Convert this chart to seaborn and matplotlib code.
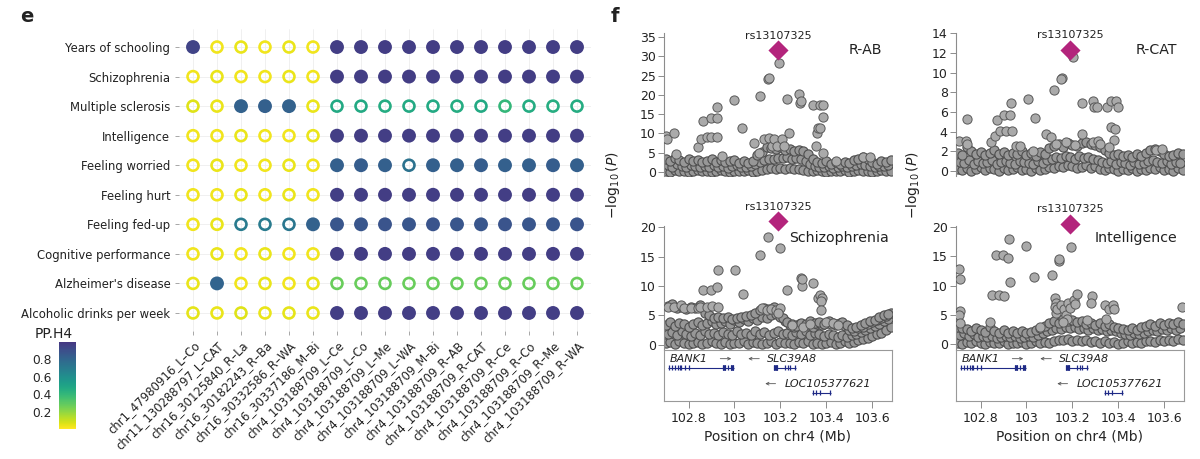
import matplotlib
matplotlib.use("Agg")
import matplotlib.pyplot as plt
from matplotlib.colors import ListedColormap
import numpy as np
import pandas as pd
import seaborn as sns

# ---------------- panel e: colocalisation dot plot ----------------
traits = ["Years of schooling", "Schizophrenia", "Multiple sclerosis", "Intelligence",
          "Feeling worried", "Feeling hurt", "Feeling fed-up", "Cognitive performance",
          "Alzheimer's disease", "Alcoholic drinks per week"]
loci = ["chr1_47980916_L–Co", "chr11_130288797_L–CAT", "chr16_30125840_R–La",
        "chr16_30182243_R–Ba", "chr16_30332586_R–WA", "chr16_30337186_M–Bi",
        "chr4_103188709_L–Ce", "chr4_103188709_L–Co", "chr4_103188709_L–Me",
        "chr4_103188709_L–WA", "chr4_103188709_M–Bi", "chr4_103188709_R–AB",
        "chr4_103188709_R–CAT", "chr4_103188709_R–Ce", "chr4_103188709_R–Co",
        "chr4_103188709_R–Me", "chr4_103188709_R–WA"]

pp_schooling = [0.95, 0.03, 0.04, 0.03, 0.04, 0.03, 0.97, 0.97, 0.98, 0.97, 0.98, 0.97, 0.97, 0.98, 0.97, 0.97, 0.98]
pp_schizophrenia = [0.03, 0.04, 0.03, 0.03, 0.04, 0.03, 0.98, 0.97, 0.98, 0.98, 0.97, 0.98, 0.97, 0.98, 0.98, 0.97, 0.98]
pp_ms = [0.06, 0.04, 0.82, 0.83, 0.82, 0.04, 0.47, 0.47, 0.46, 0.47, 0.47, 0.46, 0.47, 0.40, 0.46, 0.45, 0.46]
pp_intelligence = [0.03, 0.03, 0.04, 0.03, 0.03, 0.04, 0.97, 0.98, 0.97, 0.97, 0.98, 0.97, 0.98, 0.97, 0.97, 0.98, 0.97]
pp_worried = [0.03, 0.04, 0.03, 0.03, 0.04, 0.03, 0.83, 0.84, 0.83, 0.74, 0.83, 0.83, 0.84, 0.83, 0.83, 0.84, 0.83]
pp_hurt = [0.03, 0.03, 0.04, 0.03, 0.04, 0.03, 0.97, 0.97, 0.98, 0.97, 0.97, 0.98, 0.97, 0.97, 0.98, 0.97, 0.97]
pp_fedup = [0.03, 0.04, 0.70, 0.70, 0.72, 0.82, 0.87, 0.87, 0.88, 0.87, 0.88, 0.87, 0.87, 0.88, 0.87, 0.87, 0.88]
pp_cognitive = [0.03, 0.04, 0.03, 0.04, 0.03, 0.03, 0.97, 0.98, 0.97, 0.98, 0.97, 0.97, 0.98, 0.97, 0.97, 0.98, 0.97]
pp_alzheimer = [0.04, 0.81, 0.03, 0.04, 0.03, 0.04, 0.27, 0.27, 0.28, 0.27, 0.27, 0.28, 0.27, 0.27, 0.28, 0.27, 0.27]
pp_alcohol = [0.05, 0.04, 0.06, 0.04, 0.05, 0.04, 0.97, 0.97, 0.98, 0.97, 0.97, 0.98, 0.97, 0.98, 0.97, 0.97, 0.98]
pp_rows = [pp_schooling, pp_schizophrenia, pp_ms, pp_intelligence, pp_worried,
           pp_hurt, pp_fedup, pp_cognitive, pp_alzheimer, pp_alcohol]

# ---------------- panel f: regional association plots ----------------
lead_snp = "rs13107325"
lead_pos = 103.188709

band_x_a = [102.70, 102.72, 102.74, 102.76, 102.78, 102.80, 102.82, 102.84, 102.86, 102.88,
            102.90, 102.92, 102.94, 102.96, 102.98, 103.00, 103.02, 103.04, 103.06, 103.08,
            103.10, 103.12, 103.14, 103.16, 103.18, 103.20, 103.22, 103.24, 103.26, 103.28,
            103.30, 103.32, 103.34, 103.36, 103.38, 103.40, 103.42, 103.44, 103.46, 103.48,
            103.50, 103.52, 103.54, 103.56, 103.58, 103.60, 103.62, 103.64, 103.66, 103.68]
band_x_b = [102.71, 102.73, 102.75, 102.77, 102.79, 102.81, 102.83, 102.85, 102.87, 102.89,
            102.91, 102.93, 102.95, 102.97, 102.99, 103.01, 103.03, 103.05, 103.07, 103.09,
            103.11, 103.13, 103.15, 103.17, 103.19, 103.21, 103.23, 103.25, 103.27, 103.29,
            103.31, 103.33, 103.35, 103.37, 103.39, 103.41, 103.43, 103.45, 103.47, 103.49,
            103.51, 103.53, 103.55, 103.57, 103.59, 103.61, 103.63, 103.65, 103.67]

# R-AB
rab_lo = [0.3, 0.1, 0.5, 0.2, 0.4, 0.1, 0.3, 0.6, 0.2, 0.4,
          0.1, 0.3, 0.5, 0.2, 0.1, 0.4, 0.3, 0.2, 0.5, 0.1,
          0.4, 0.6, 0.8, 1.0, 0.9, 1.1, 0.8, 1.0, 0.7, 0.9,
          0.6, 0.4, 0.2, 0.5, 0.3, 0.1, 0.4, 0.2, 0.3, 0.5,
          0.1, 0.3, 0.6, 0.2, 0.4, 0.1, 0.3, 0.5, 0.2, 0.4]
rab_mid = [1.8, 1.4, 2.0, 1.6, 1.3, 1.9, 1.5, 1.2, 1.7, 1.4,
           1.9, 1.3, 1.6, 1.1, 1.5, 1.8, 1.2, 1.4, 1.6, 2.0,
           2.6, 3.2, 3.5, 3.4, 3.7, 3.6, 3.8, 3.5, 3.6, 3.3,
           2.8, 2.2, 1.7, 1.4, 1.2, 1.5, 1.0, 1.3, 1.6, 1.2,
           1.5, 1.8, 2.1, 1.9, 1.6, 1.4, 1.7, 1.5, 1.8]
rab_hi = [3.3, 2.9, 3.6, 3.1, 2.7, 3.4, 2.8, 3.2, 2.6, 3.0,
          3.3, 2.7, 3.1, 2.5, 2.9, 3.2, 2.4, 2.8, 2.3, 3.0,
          4.5, 5.3, 6.5, 6.2, 5.9, 6.4, 5.6, 5.9, 5.5, 5.8,
          5.4, 4.6, 3.4, 2.6, 2.3, 2.9, 2.1, 2.5, 2.0, 2.7,
          2.4, 3.1, 3.5, 3.8, 3.3, 2.6, 2.2, 2.9, 2.5, 3.1]
rab_peaks = [(102.702, 9.3), (102.705, 8.6), (102.735, 10.0), (102.745, 4.8), (102.842, 6.4),
             (102.853, 8.6), (102.865, 13.2), (102.879, 9.1), (102.897, 9.1), (102.925, 9.1),
             (102.897, 14.0), (102.923, 14.0), (102.925, 16.9), (102.947, 4.1), (103.000, 18.6),
             (103.034, 11.4), (103.084, 7.6), (103.105, 5.0), (103.110, 19.8), (103.127, 8.6),
             (103.146, 24.0), (103.149, 24.3), (103.149, 8.8), (103.165, 6.8), (103.171, 8.6),
             (103.185, 6.8), (103.195, 28.3), (103.207, 8.5), (103.214, 6.8), (103.229, 19.0),
             (103.236, 10.2), (103.282, 20.1), (103.286, 17.9), (103.290, 18.3), (103.344, 17.5),
             (103.358, 10.2), (103.365, 11.5), (103.373, 17.5), (103.373, 11.5), (103.384, 17.5),
             (103.384, 14.3), (103.355, 6.7), (103.384, 5.0), (103.440, 3.0), (103.560, 4.0),
             (103.590, 4.0)]

# R-CAT
rcat_lo = [0.2, 0.1, 0.3, 0.0, 0.2, 0.4, 0.1, 0.3, 0.2, 0.0,
           0.3, 0.1, 0.2, 0.4, 0.1, 0.2, 0.0, 0.3, 0.1, 0.2,
           0.4, 0.3, 0.5, 0.4, 0.6, 0.5, 0.3, 0.4, 0.6, 0.3,
           0.5, 0.2, 0.1, 0.3, 0.2, 0.0, 0.2, 0.1, 0.3, 0.0,
           0.2, 0.1, 0.3, 0.2, 0.4, 0.1, 0.2, 0.0, 0.3, 0.1]
rcat_mid = [0.9, 0.8, 1.1, 0.7, 1.0, 0.8, 0.9, 1.1, 0.7, 0.9,
            1.0, 0.8, 0.7, 1.0, 0.9, 0.8, 0.7, 1.0, 0.8, 1.1,
            1.2, 1.4, 1.3, 1.5, 1.4, 1.2, 1.5, 1.3, 1.4, 1.2,
            1.1, 0.9, 0.8, 1.0, 0.7, 0.9, 0.8, 0.6, 0.9, 0.7,
            0.8, 1.0, 1.1, 0.9, 0.8, 1.0, 0.7, 0.9, 0.8]
rcat_hi = [1.8, 1.6, 2.4, 2.0, 1.7, 1.9, 1.6, 1.8, 2.1, 1.7,
           1.9, 1.6, 1.8, 1.7, 2.0, 1.6, 1.8, 1.5, 1.9, 1.7,
           2.3, 2.6, 2.8, 2.5, 2.9, 2.7, 2.6, 2.9, 3.0, 2.8,
           2.7, 2.4, 2.1, 1.8, 1.6, 1.7, 1.5, 1.6, 1.4, 1.7,
           1.5, 1.8, 2.1, 2.2, 2.0, 1.7, 1.5, 1.6, 1.8, 1.7]
rcat_peaks = [(102.706, 3.1), (102.738, 3.1), (102.742, 2.8), (102.743, 5.3), (102.847, 3.0),
              (102.862, 3.6), (102.872, 5.2), (102.884, 4.1), (102.909, 4.1), (102.938, 4.1),
              (102.901, 5.7), (102.927, 5.7), (102.934, 6.9), (102.953, 2.6), (102.970, 2.6),
              (103.005, 7.3), (103.039, 5.4), (103.030, 2.0), (103.085, 3.8), (103.106, 3.5),
              (103.118, 8.2), (103.155, 9.5), (103.152, 9.4), (103.203, 11.6), (103.240, 6.9),
              (103.240, 3.8), (103.290, 7.1), (103.295, 6.5), (103.305, 6.5), (103.290, 3.0),
              (103.310, 3.1), (103.320, 2.8), (103.349, 6.5), (103.370, 7.1), (103.390, 7.1),
              (103.400, 6.5), (103.370, 4.5), (103.385, 4.3), (103.380, 3.2), (103.360, 2.5),
              (103.130, 2.8), (103.170, 3.0), (103.210, 2.7), (103.565, 2.1), (103.590, 2.2)]

# Schizophrenia
scz_lo = [0.3, 0.5, 0.2, 0.6, 0.4, 0.1, 0.3, 0.5, 0.2, 0.4,
          0.6, 0.3, 0.1, 0.5, 0.2, 0.4, 0.3, 0.6, 0.2, 0.5,
          0.3, 0.1, 0.4, 0.6, 0.2, 0.5, 0.3, 0.4, 0.1, 0.5,
          0.3, 0.6, 0.2, 0.4, 0.1, 0.3, 0.5, 0.2, 0.4, 0.6,
          0.3, 0.5, 0.8, 1.0, 1.2, 1.5, 1.8, 2.1, 2.5, 3.0]
scz_mid = [1.8, 2.2, 1.6, 2.4, 1.9, 1.5, 2.1, 1.7, 2.3, 1.8,
           2.0, 1.6, 2.2, 1.9, 1.7, 2.4, 1.8, 2.1, 1.6, 2.3,
           1.9, 2.2, 1.7, 2.0, 2.4, 1.8, 2.1, 1.6, 2.2, 1.9,
           2.3, 1.7, 2.0, 1.8, 1.5, 1.9, 1.6, 1.4, 1.7, 1.3,
           1.6, 1.9, 2.2, 2.5, 2.9, 3.2, 3.6, 4.0, 4.4]
scz_hi = [3.4, 3.9, 3.2, 3.8, 3.5, 3.1, 3.6, 3.9, 3.3, 3.7,
          4.0, 3.5, 3.8, 4.1, 3.6, 4.2, 3.9, 4.4, 4.0, 4.5,
          4.3, 4.7, 4.6, 5.0, 5.2, 4.8, 4.1, 3.3, 3.0, 3.5,
          3.2, 3.4, 3.1, 3.6, 3.3, 3.8, 3.5, 3.4, 3.7, 3.2,
          2.6, 2.4, 2.8, 3.1, 3.5, 3.9, 4.2, 4.6, 4.9, 5.4]
scz_top = [6.6, 6.9, 6.3, 6.4, 6.1, 6.5, 6.3, 6.7, 5.4, 5.0,
           4.6, 4.8, 4.5, 4.7, 4.4, 4.6, 4.8, 4.9, 5.1, 5.5,
           6.0, 6.3, 6.1, 6.4, 5.8, 4.6, 3.9, 3.6, 3.2, 3.8,
           3.5, 4.0, 3.7, 3.9, 3.6, 4.1, 3.8, 3.5, 3.9, 3.4,
           2.9, 3.0, 3.3, 3.7, 4.0, 4.3, 4.7, 5.0, 5.2]
scz_peaks = [(102.709, 6.5), (102.735, 6.5), (102.767, 6.8), (102.780, 6.3), (102.810, 6.3),
             (102.840, 6.3), (102.850, 6.5), (102.880, 6.5), (102.900, 6.6), (102.930, 6.4),
             (102.863, 9.4), (102.897, 9.4), (102.923, 9.8), (102.928, 12.8), (103.002, 12.8),
             (103.036, 8.7), (103.113, 15.2), (103.146, 18.3), (103.197, 16.4), (103.229, 9.4),
             (103.288, 11.4), (103.293, 10.0), (103.296, 11.2), (103.344, 10.5), (103.365, 8.0),
             (103.373, 8.5), (103.380, 8.0), (103.378, 7.5), (103.376, 6.0), (103.120, 6.3),
             (103.140, 6.0), (103.160, 6.1), (103.180, 6.0), (103.200, 6.3), (103.190, 5.5),
             (103.250, 3.3), (103.300, 3.0), (103.330, 3.6), (103.400, 3.9), (103.430, 3.8),
             (103.450, 3.4)]

# Intelligence
int_lo = [0.3, 0.1, 0.4, 0.2, 0.5, 0.3, 0.1, 0.4, 0.2, 0.3,
          0.5, 0.1, 0.3, 0.2, 0.4, 0.1, 0.3, 0.5, 0.2, 0.4,
          0.3, 0.6, 0.8, 0.7, 0.9, 0.6, 0.8, 0.5, 0.7, 0.4,
          0.6, 0.3, 0.5, 0.2, 0.4, 0.1, 0.3, 0.5, 0.2, 0.4,
          0.3, 0.5, 0.6, 0.4, 0.7, 0.5, 0.8, 0.6, 0.9, 0.7]
int_mid = [1.6, 1.9, 1.4, 1.7, 1.3, 1.5, 1.2, 1.4, 1.1, 1.3,
           1.5, 1.2, 1.4, 1.1, 1.3, 1.5, 1.2, 1.6, 1.9, 2.2,
           2.5, 2.8, 2.6, 3.0, 2.7, 2.9, 2.6, 2.8, 2.5, 2.7,
           2.4, 2.6, 2.3, 2.5, 2.2, 2.0, 1.8, 1.6, 1.9, 1.7,
           2.0, 2.2, 2.4, 2.3, 2.6, 2.4, 2.7, 2.5, 2.8]
int_hi = [3.0, 2.7, 2.6, 2.2, 2.8, 2.4, 2.1, 2.9, 2.3, 2.0,
          2.4, 1.9, 2.2, 2.0, 2.3, 1.9, 2.1, 2.5, 2.8, 3.2,
          3.6, 4.0, 3.7, 4.3, 3.9, 4.1, 3.8, 4.0, 3.5, 3.7,
          3.3, 3.6, 3.2, 3.4, 3.0, 2.8, 2.6, 2.4, 2.7, 2.5,
          2.9, 3.2, 3.4, 3.1, 3.6, 3.3, 3.7, 3.4, 3.8, 3.5]
int_peaks = [(102.706, 12.9), (102.712, 11.1), (102.710, 5.7), (102.708, 5.0), (102.710, 3.6),
             (102.839, 3.8), (102.851, 8.4), (102.880, 8.4), (102.900, 8.3), (102.866, 15.2),
             (102.897, 15.2), (102.920, 14.7), (102.924, 17.9), (102.927, 10.7), (103.000, 16.7),
             (103.032, 11.5), (103.060, 2.9), (103.110, 11.9), (103.141, 14.2), (103.143, 14.6),
             (103.195, 16.6), (103.125, 7.9), (103.128, 7.1), (103.123, 6.4), (103.128, 5.3),
             (103.135, 6.0), (103.150, 6.7), (103.165, 6.0), (103.170, 5.0), (103.175, 4.3),
             (103.180, 7.0), (103.205, 7.5), (103.220, 8.6), (103.190, 6.2), (103.210, 6.8),
             (103.160, 3.8), (103.286, 8.3), (103.280, 7.0), (103.262, 4.1), (103.344, 6.7),
             (103.360, 6.1), (103.375, 6.7), (103.380, 6.1), (103.345, 4.4), (103.678, 6.4)]

lead_logp = [31.5, 12.3, 21.0, 20.6]
panel_names = ["R-AB", "R-CAT", "Schizophrenia", "Intelligence"]

# genes in the window
gene_names = ["BANK1", "SLC39A8", "LOC105377621"]
gene_start = [102.711, 103.172, 103.338]
gene_end = [102.996, 103.266, 103.420]
gene_row = [0.65, 0.65, 0.16]
gene_label_x = [102.716, 103.142, 103.218]
arrow_from = [102.926, 103.120, 103.191]
arrow_to = [102.998, 103.048, 103.122]
gene_exons = [
    [102.713, 102.728, 102.742, 102.756, 102.762, 102.768, 102.784, 102.800,
     102.952, 102.958, 102.972, 102.986, 102.994],
    [103.174, 103.180, 103.186, 103.222, 103.232, 103.240, 103.262],
    [103.342, 103.356, 103.372, 103.418],
]
gene_blocks = [[(102.950, 102.962), (102.985, 102.996)], [(103.172, 103.188)], []]

# ---------------- styling ----------------
sns.set_theme(style="white")
plt.rcParams["font.family"] = ["DejaVu Sans"]
plt.rcParams["text.color"] = "#222222"

W, H = 1200, 459


def frac(left, top, right, bottom):
    return [left / W, 1 - bottom / H, (right - left) / W, (bottom - top) / H]


pp_cmap = ListedColormap(plt.get_cmap("viridis")(np.linspace(0.16, 1.0, 256))[::-1])

fig = plt.figure(figsize=(12, 4.59), dpi=100)

# ---- e ----
ax_e = fig.add_axes(frac(178.6, 29.3, 591.4, 330.7))
dot_df = pd.DataFrame({
    "trait": np.repeat(traits, len(loci)),
    "locus": np.tile(loci, len(traits)),
    "pp": np.concatenate(pp_rows),
})
dot_df["trait"] = pd.Categorical(dot_df["trait"], categories=traits)
dot_df["locus"] = pd.Categorical(dot_df["locus"], categories=loci)
filled = dot_df[dot_df["pp"] >= 0.8]
hollow = dot_df[dot_df["pp"] < 0.8]

sns.scatterplot(data=filled, x="locus", y="trait", hue="pp", palette=pp_cmap,
                hue_norm=(0, 1), s=100, linewidth=0, legend=False, ax=ax_e, zorder=3)
sns.scatterplot(data=hollow, x="locus", y="trait", hue="pp", palette=pp_cmap,
                hue_norm=(0, 1), s=62, legend=False, ax=ax_e, zorder=3)
ring = ax_e.collections[-1]
ring.set_edgecolors(ring.get_facecolors())
ring.set_facecolors("none")
ring.set_linewidths(1.9)

ax_e.set_xlim(-0.6, len(loci) - 0.4)
ax_e.set_ylim(len(traits) - 0.4, -0.6)
ax_e.grid(True, color="#eeeeee", lw=0.6)
ax_e.set_axisbelow(True)
for sp in ax_e.spines.values():
    sp.set_visible(False)
ax_e.set_xlabel("")
ax_e.set_ylabel("")
ax_e.tick_params(axis="both", length=3, width=0.6, color="#999999", pad=3,
                 labelcolor="#222222", labelsize=8.4, bottom=True, left=True)
for lab in ax_e.get_xticklabels():
    lab.set_rotation(45)
    lab.set_ha("right")
    lab.set_va("top")
    lab.set_rotation_mode("anchor")

cax = fig.add_axes(frac(59, 342, 76, 429))
sm = plt.cm.ScalarMappable(cmap=pp_cmap, norm=plt.Normalize(0, 1))
cb = fig.colorbar(sm, cax=cax, ticks=[0.2, 0.4, 0.6, 0.8])
cb.outline.set_visible(False)
cax.yaxis.set_ticks_position("both")
cax.tick_params(direction="in", length=3, width=0.8, color="white",
                labelsize=8.8, labelleft=True, labelright=False, pad=5)
fig.text(35 / W, 1 - 334 / H, "PP.H4", fontsize=10, va="center", ha="left")

# ---- f ----
def locus_frame(layers, peaks):
    parts = []
    for i, vals in enumerate(layers):
        part = pd.DataFrame({"pos": band_x_a if i % 2 == 0 else band_x_b, "logp": vals})
        part["kind"] = "band"
        parts.append(part)
    part = pd.DataFrame(peaks, columns=["pos", "logp"])
    part["kind"] = "peak"
    parts.append(part)
    return pd.concat(parts, ignore_index=True)


frames = [
    locus_frame([rab_lo, rab_mid, rab_hi], rab_peaks),
    locus_frame([rcat_lo, rcat_mid, rcat_hi], rcat_peaks),
    locus_frame([scz_lo, scz_mid, scz_hi, scz_top], scz_peaks),
    locus_frame([int_lo, int_mid, int_hi], int_peaks),
]
col_left = [664, 956]
col_w = 228
rows = [(33, 176), (226, 349)]
ylims = [(-1.0, 36.0), (-0.5, 14.05), (-0.7, 20.2), (-0.8, 20.2)]
yticks = [range(0, 36, 5), range(0, 15, 2), range(0, 21, 5), range(0, 21, 5)]
name_xy = [(0.955, 0.88), (0.969, 0.88), (0.987, 0.90), (0.969, 0.905)]
xlim = (102.693, 103.686)

for k, df in enumerate(frames):
    r, c = divmod(k, 2)
    top, bot = rows[r]
    ax = fig.add_axes(frac(col_left[c], top, col_left[c] + col_w, bot))
    sns.scatterplot(data=df[df["kind"] == "band"], x="pos", y="logp", color="#979797",
                    edgecolor="#4f4f4f", linewidth=0.8, s=44, legend=False, ax=ax, zorder=2)
    sns.scatterplot(data=df[df["kind"] == "peak"], x="pos", y="logp", color="#aaaaaa",
                    edgecolor="#595959", linewidth=0.7, s=44, legend=False, ax=ax, zorder=3)
    sns.scatterplot(x=[lead_pos], y=[lead_logp[k]], marker="D", color="#b3247c",
                    s=105, linewidth=0, legend=False, ax=ax, zorder=5)
    ax.collections[-1].set_clip_on(False)
    ax.annotate(lead_snp, (lead_pos, lead_logp[k]), xytext=(0, 7), textcoords="offset points",
                ha="center", va="bottom", fontsize=8, annotation_clip=False)
    ax.text(*name_xy[k], panel_names[k], transform=ax.transAxes, ha="right",
            va="center", fontsize=10.2)
    ax.set_xlim(xlim)
    ax.set_ylim(ylims[k])
    ax.set_yticks(list(yticks[k]))
    ax.set_xticks([])
    ax.set_xlabel("")
    ax.set_ylabel("")
    for side in ("top", "right", "bottom"):
        ax.spines[side].set_visible(False)
    ax.spines["left"].set_color("#8c8c8c")
    ax.spines["left"].set_linewidth(0.8)
    ax.tick_params(axis="y", length=4, width=0.7, color="#8c8c8c", pad=2,
                   labelsize=9, labelcolor="#222222", left=True)

    if r == 1:
        gax = fig.add_axes(frac(col_left[c], 350, col_left[c] + col_w, 401))
        gax.set_xlim(xlim)
        gax.set_ylim(0, 1)
        for g, name in enumerate(gene_names):
            y = gene_row[g]
            gax.hlines(y, gene_start[g], gene_end[g], color="#1f2a86", lw=0.8)
            gax.vlines(gene_exons[g], y - 0.05, y + 0.05, color="#1f2a86", lw=0.9)
            for b0, b1 in gene_blocks[g]:
                gax.hlines(y, b0, b1, color="#1f2a86", lw=4)
            gax.text(gene_label_x[g], y + 0.17, name, fontsize=8, style="italic",
                     ha="left", va="center")
            gax.annotate("", xy=(arrow_to[g], y + 0.18), xytext=(arrow_from[g], y + 0.18),
                         arrowprops=dict(arrowstyle="->", color="#555555", lw=0.6,
                                         mutation_scale=5))
        gax.set_yticks([])
        gax.set_xticks([102.8, 103.0, 103.2, 103.4, 103.6],
                       labels=["102.8", "103", "103.2", "103.4", "103.6"])
        for sp in gax.spines.values():
            sp.set_color("#999999")
            sp.set_linewidth(0.8)
        gax.tick_params(axis="x", length=5, width=0.7, color="#8c8c8c", pad=3,
                        labelsize=9, labelcolor="#222222", bottom=True)
        gax.set_xlabel("Position on chr4 (Mb)", fontsize=10, labelpad=3)

for xpos in (613, 913):
    fig.text(xpos / W, 1 - 185 / H, r"$-\log_{10}(P)$", rotation=90, ha="center",
             va="center", fontsize=10)

fig.text(20 / W, 1 - 17 / H, "e", fontsize=14, fontweight="bold", va="center", ha="left")
fig.text(611 / W, 1 - 17 / H, "f", fontsize=14, fontweight="bold", va="center", ha="left")

fig.savefig("out.png", dpi=100)
